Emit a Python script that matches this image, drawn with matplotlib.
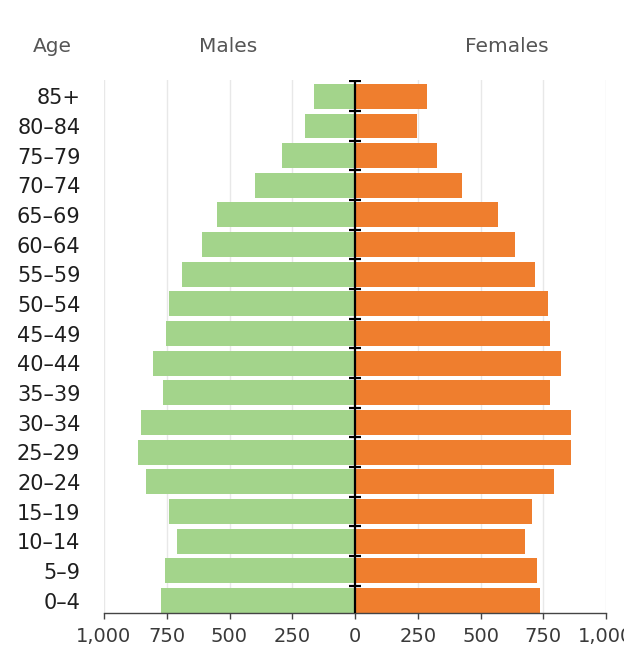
import numpy as np
import matplotlib.pyplot as plt

ages = ['0–4', '5–9', '10–14', '15–19', '20–24', '25–29', '30–34', '35–39', '40–44',
        '45–49', '50–54', '55–59', '60–64', '65–69', '70–74', '75–79', '80–84', '85+']
males = [771, 755, 708, 740, 831, 866, 851, 764, 803, 752, 743, 688, 608, 549, 398, 290, 200, 165]
females = [739, 724, 676, 704, 791, 859, 859, 775, 819, 775, 767, 716, 636, 569, 425, 326, 247, 286]
xticks = [-1000, -750, -500, -250, 0, 250, 500, 750, 1000]

green = '#a3d48b'
orange = '#ef7e2e'

fig = plt.figure(figsize=(6.24, 6.59), dpi=100)
ax = fig.add_axes([104 / 624, 46 / 659, 502 / 624, 533 / 659])

y = np.arange(len(ages))
ax.barh(y, [-m for m in males], height=0.84, color=green, zorder=2)
ax.barh(y, females, height=0.84, color=orange, zorder=2)

# grid
for t in xticks:
    if t != 0:
        ax.axvline(t, color='#e8e8e8', lw=1, zorder=1)

# centre line with little marks between the bars
ax.axvline(0, color='black', lw=1.6, zorder=3)
ax.plot(np.zeros(len(ages)), y + 0.5, ls='none', marker='_', ms=9, mew=1.6,
        color='black', zorder=3)

ax.set_xlim(-1000, 1000)
ax.set_ylim(-0.42, len(ages) - 0.45)
ax.set_yticks(y)
ax.set_yticklabels(ages)
ax.set_xticks(xticks)
ax.set_xticklabels([f'{abs(t):,}' for t in xticks])

for s in ['left', 'top', 'right']:
    ax.spines[s].set_visible(False)
ax.spines['bottom'].set_color('#444444')
ax.spines['bottom'].set_linewidth(1)

ax.tick_params(axis='y', length=0, pad=17, labelsize=15, labelcolor='#1e1e1e')
ax.tick_params(axis='x', length=4, width=1, color='#444444', pad=6,
               labelsize=14, labelcolor='#3a3a3a')

fig.text(52 / 624, 1 - 47 / 659, 'Age', ha='center', va='center', fontsize=14.5, color='#555555')
fig.text(228 / 624, 1 - 47 / 659, 'Males', ha='center', va='center', fontsize=14.5, color='#555555')
fig.text(507 / 624, 1 - 47 / 659, 'Females', ha='center', va='center', fontsize=14.5, color='#555555')

fig.savefig('out.png', dpi=100)
